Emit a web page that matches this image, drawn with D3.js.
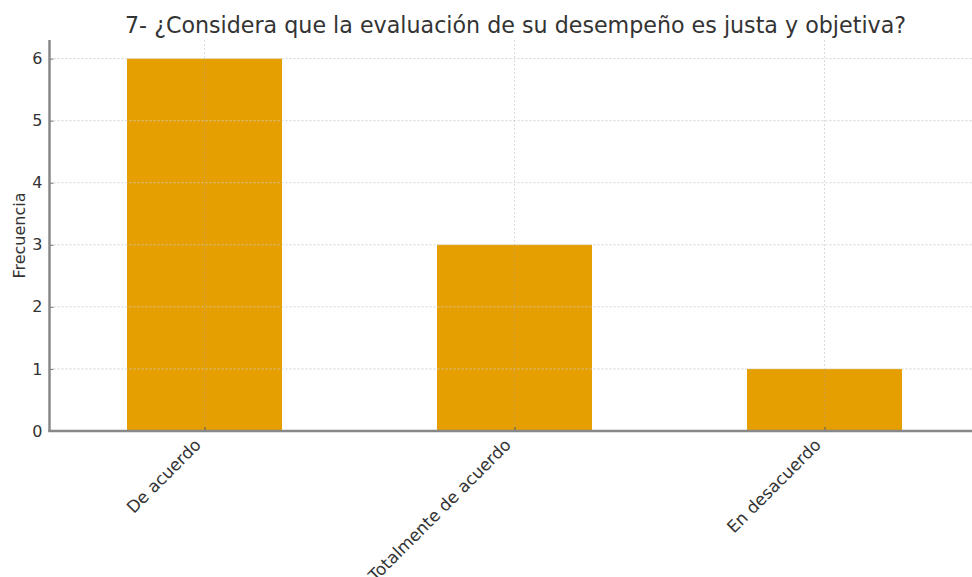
<!DOCTYPE html>
<html><head><meta charset="utf-8">
<script src="https://cdn.jsdelivr.net/npm/d3@7"></script>
<style>body{margin:0;background:#fff}svg{display:block}text{font-family:"DejaVu Sans",sans-serif}</style>
</head><body><svg id="c" width="972" height="577"></svg>
<script>
const title = "7- ¿Considera que la evaluación de su desempeño es justa y objetiva?";
const categories = ["De acuerdo", "Totalmente de acuerdo", "En desacuerdo"];
const values = [6, 3, 1];
const yTicks = [0, 1, 2, 3, 4, 5, 6];
const yLabel = "Frecuencia";

(function () {
const svg = d3.select("#c");
const mLeft = 49.5, mRight = 979.5, mTop = 40, mBottom = 431;
const x = d3.scaleLinear().domain([-0.5, categories.length - 0.5]).range([mLeft, mRight]);
const y = d3.scaleLinear().domain([0, 6.3]).range([mBottom, mTop]);
const bw = x(0.25) - x(-0.25);

// bars
svg.append("g").selectAll("rect").data(values).join("rect")
  .attr("x", (d, i) => x(i) - bw / 2).attr("width", bw)
  .attr("y", d => y(d)).attr("height", d => y(0) - y(d))
  .attr("fill", "#E69F00");

// grid (drawn over bars)
const g = svg.append("g");
g.selectAll("line.h").data(yTicks.filter(t => t > 0)).join("line")
  .attr("x1", mLeft).attr("x2", 972).attr("y1", d => y(d)).attr("y2", d => y(d))
  .attr("stroke", "#cccccc").attr("stroke-width", 1).attr("stroke-dasharray", "2,2").attr("opacity", 0.8);
g.selectAll("line.v").data(categories.map((c, i) => i)).join("line")
  .attr("x1", d => x(d)).attr("x2", d => x(d)).attr("y1", mTop).attr("y2", mBottom)
  .attr("stroke", "#aaaaaa").attr("stroke-width", 1).attr("stroke-dasharray", "2,2").attr("opacity", 0.4);

// y axis
const ya = svg.append("g").attr("transform", `translate(${mLeft},0)`)
  .call(d3.axisLeft(y).tickValues(yTicks).tickFormat(d3.format("d")).tickSize(0).tickPadding(7));
ya.select(".domain").remove();
ya.selectAll("text").attr("font-size", 16).attr("fill", "#333");
ya.selectAll(".tick").append("line").attr("x1", 0).attr("x2", 4).attr("stroke", "#777");
svg.append("line").attr("x1", mLeft).attr("x2", mLeft).attr("y1", mTop).attr("y2", mBottom + 1)
  .attr("stroke", "#888").attr("stroke-width", 2.5);

// x axis
const xa = svg.append("g").attr("transform", `translate(0,${mBottom})`)
  .call(d3.axisBottom(x).tickValues(categories.map((c, i) => i)).tickFormat(i => categories[i]).tickSize(0));
xa.select(".domain").remove();
xa.selectAll(".tick").append("line").attr("y1", 0).attr("y2", -4).attr("stroke", "#555");
xa.selectAll("text").attr("font-size", 16.8).attr("fill", "#333")
  .attr("text-anchor", "end").attr("dy", 0).attr("y", 0)
  .attr("transform", "translate(-3,15) rotate(-45)");
svg.append("line").attr("x1", mLeft - 1).attr("x2", 972).attr("y1", mBottom).attr("y2", mBottom)
  .attr("stroke", "#888").attr("stroke-width", 2.5);

// labels
svg.append("text").attr("transform", `translate(25,${(mTop + mBottom) / 2}) rotate(-90)`)
  .attr("text-anchor", "middle").attr("font-size", 16).attr("fill", "#333").text(yLabel);
svg.append("text").attr("x", (mLeft + mRight) / 2 + 1).attr("y", 33).attr("text-anchor", "middle")
  .attr("font-size", 22.2).attr("fill", "#333").text(title);
})();
</script></body></html>
